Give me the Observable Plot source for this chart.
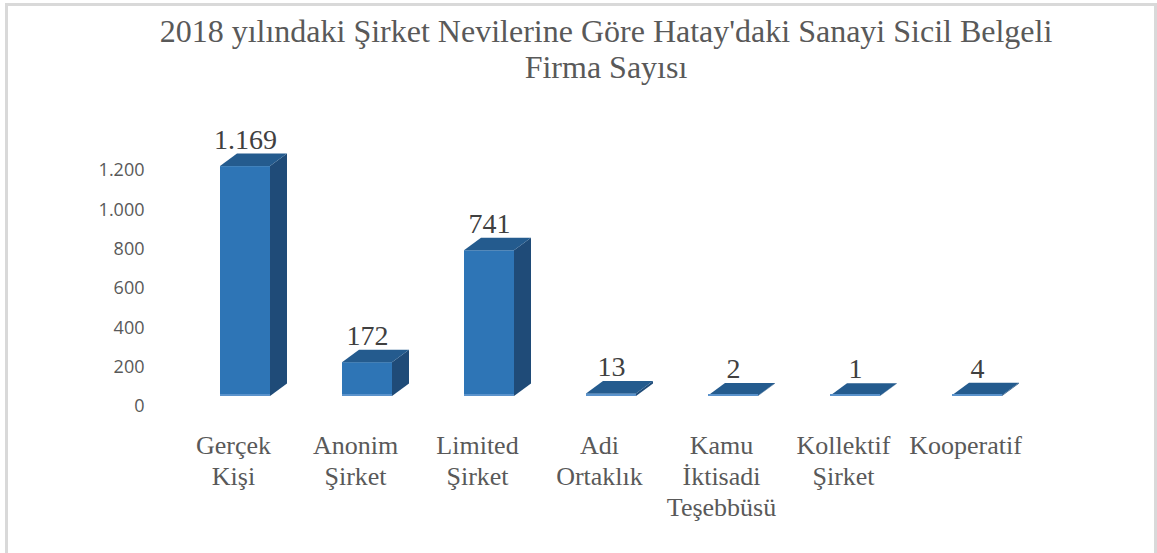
<!DOCTYPE html>
<html>
<head>
<meta charset="utf-8">
<script src="https://cdn.jsdelivr.net/npm/d3@7"></script>
<script src="https://cdn.jsdelivr.net/npm/@observablehq/plot@0.6"></script>
<style>
  html, body { margin: 0; padding: 0; background: #fff; overflow: hidden; width: 1157px; height: 553px; }
  .frame { position: absolute; left: 5px; top: 3px; width: 1146px; height: 600px; border: 3px solid #d9d9d9; border-bottom: none; }
  .title { position: absolute; left: 0; top: 13px; width: 1212px; text-align: center; font-family: "Liberation Serif", "Times New Roman", serif; font-size: 32px; line-height: 36px; color: #595959; }
  #chart { position: absolute; left: 0; top: 90px; }
</style>
</head>
<body>
<div class="frame"></div>
<div class="title">2018 yılındaki Şirket Nevilerine Göre Hatay'daki Sanayi Sicil Belgeli<br>Firma Sayısı</div>
<div id="chart"></div>
<script>
const categories = ["Gerçek Kişi", "Anonim Şirket", "Limited Şirket", "Adi Ortaklık", "Kamu İktisadi Teşebbüsü", "Kollektif Şirket", "Kooperatif"];
const categoryLabels = ["Gerçek\nKişi", "Anonim\nŞirket", "Limited\nŞirket", "Adi\nOrtaklık", "Kamu\nİktisadi\nTeşebbüsü", "Kollektif\nŞirket", "Kooperatif"];
const values = [1169, 172, 741, 13, 2, 1, 4];
const yTicks = [0, 200, 400, 600, 800, 1000, 1200];

const data = categories.map((c, i) => ({cat: c, label: categoryLabels[i], value: values[i], base: 0}));
const fmt = d3.formatLocale({thousands: ".", decimal: ",", grouping: [3], currency: ["", ""]}).format(",");

const DX = 17, DY = 12.5;
const ns = "http://www.w3.org/2000/svg";
function poly(g, pts, fill) {
  const p = document.createElementNS(ns, "polygon");
  p.setAttribute("points", pts.map(q => q.join(",")).join(" "));
  p.setAttribute("fill", fill);
  g.appendChild(p);
}
function render3d(index, scales, values, dimensions, context, next) {
  const g = next(index, scales, values, dimensions, context);
  const rects = Array.from(g.querySelectorAll("rect"));
  for (const r of rects) {
    const x = +r.getAttribute("x"), y = +r.getAttribute("y");
    const w = +r.getAttribute("width"), h = +r.getAttribute("height");
    poly(g, [[x + w, y], [x + w + DX, y - DY], [x + w + DX, y + h - DY], [x + w, y + h]], "#1F4B78");
    poly(g, [[x, y], [x + DX, y - DY], [x + w + DX, y - DY], [x + w, y]], "#245B8E");
    const b = document.createElementNS(ns, "rect");
    b.setAttribute("x", x); b.setAttribute("y", y + h - 2);
    b.setAttribute("width", w); b.setAttribute("height", 2);
    b.setAttribute("fill", "#5B93CC");
    g.appendChild(b);
  }
  return g;
}

const chart = Plot.plot({
  width: 1157,
  height: 463,
  marginLeft: 219,
  marginRight: 155,
  marginTop: 70,
  marginBottom: 157,
  style: {background: "transparent", overflow: "visible"},
  x: {domain: categories, paddingInner: 0.591, paddingOuter: 0, axis: null},
  y: {domain: [0, 1200], axis: null},
  marks: [
    Plot.axisY({ticks: yTicks, tickSize: 0, tickPadding: 75, dy: 10, label: null, tickFormat: fmt,
      fontSize: 18, fontFamily: "Open Sans", color: "#595959"}),
    Plot.barY(data, {x: "cat", y: "value", fill: "#2E75B6", render: render3d}),
    Plot.text(data, {x: "cat", y: "value", text: d => fmt(d.value), dy: -27, lineAnchor: "middle",
      fontSize: 28, fontFamily: "Liberation Serif", fill: "#404040"}),
    Plot.text(data, {x: "cat", y: "base", text: "label", dx: -12, dy: 35.5, lineAnchor: "top", lineHeight: 1.19,
      fontSize: 26, fontFamily: "Liberation Serif", fill: "#595959"})
  ]
});
document.getElementById("chart").appendChild(chart);
</script>
</body>
</html>
